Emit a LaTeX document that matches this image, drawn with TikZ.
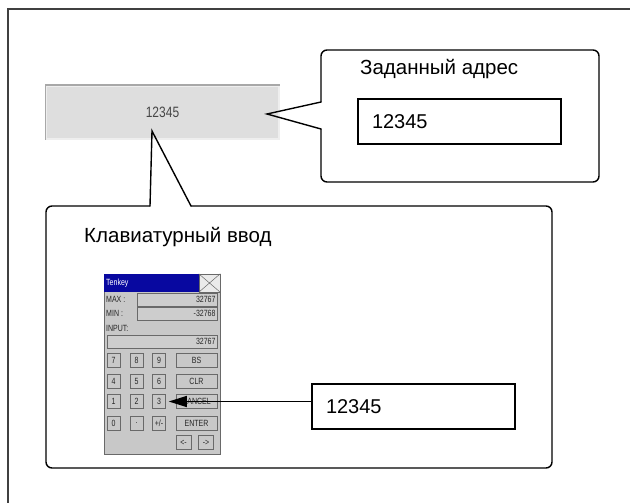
\documentclass[tikz,border=0pt]{standalone}
\usepackage{fontspec}
\setmainfont{Liberation Sans}
\newfontfamily\tkfont[FakeStretch=0.78]{Liberation Sans}
\newfontfamily\fieldfont[FakeStretch=0.8]{Liberation Sans}
\usetikzlibrary{arrows.meta}

\definecolor{framegray}{RGB}{64,64,64}
\definecolor{fieldface}{RGB}{222,222,222}
\definecolor{fieldedge}{RGB}{168,168,168}
\definecolor{fieldlight}{RGB}{238,238,238}
\definecolor{fieldtext}{RGB}{70,70,70}
\definecolor{tkface}{RGB}{200,200,200}
\definecolor{tkdark}{RGB}{105,105,105}
\definecolor{tkblue}{RGB}{8,8,160}

\tikzset{
  callout/.style={line width=1.4pt, line cap=round, rounded corners=6pt},
  pointer/.style={line width=1.4pt, line cap=round},
  calltext/.style={font=\fontsize{20.5}{24}\selectfont, inner sep=0pt},
  valbox/.style={draw, line width=1.4pt, minimum width=203pt, minimum height=45pt,
    text width=175pt, inner xsep=14pt, align=left, font=\fontsize{20}{24}\selectfont},
  field/.style={draw=fieldlight, line width=1.5pt, fill=fieldface, text=fieldtext,
    font=\fieldfont\fontsize{15}{17}\selectfont},
  tktext/.style={font=\tkfont\fontsize{9}{10}\selectfont, inner sep=0pt, text=black!85},
  tkfield/.style={draw=tkdark, line width=0.5pt, fill=tkface!90!white, minimum height=13pt, inner sep=0pt},
  tkbtn/.style={draw=tkdark, line width=0.5pt, fill=tkface, minimum width=13pt, minimum height=14pt,
    inner sep=0pt, font=\tkfont\fontsize{9}{10}\selectfont, text=black!85},
  keyarrow/.style={line width=1.2pt, -{Triangle[length=18pt,width=11pt]}},
}

\begin{document}
\begin{tikzpicture}[x=1pt,y=-1pt]
  \useasboundingbox (0,0) rectangle (630,503);
  % Rahmen
  \draw[framegray, line width=1.6pt] (8,503) -- (8,9) -- (630,9);

  % Eingabefeld
  \node[field, minimum width=233pt, minimum height=53pt] (field) at (162.5,112.5) {12345};
  \draw[fieldedge, line width=1.5pt] (field.south west) -- (field.north west) -- (field.north east);

  % Sprechblase oben
  \coordinate (tipA) at (267,114);
  \draw[callout] (321,129) -- (321,182) -- (599,182) -- (599,50) -- (321,50) -- (321,102);
  \draw[pointer] (321,102) -- (tipA) -- (321,129);
  \node[calltext, anchor=base west] (addrtitle) at (360,75) {Заданный адрес};
  \node[valbox] (addrbox) at (459.5,121.5) {12345};

  % Sprechblase unten
  \coordinate (tipB) at (152,131);
  \draw[callout] (191,206) -- (552,206) -- (552,468) -- (46,468) -- (46,206) -- (150,206);
  \draw[pointer] (150,206) -- (tipB) -- (191,206);
  \node[calltext, anchor=base west] (keytitle) at (84,242) {Клавиатурный ввод};
  \node[valbox] (keybox) at (413.5,406.5) {12345};

  % Tenkey-Fenster
  \node[draw=tkdark, line width=0.5pt, fill=tkface, minimum width=116pt, minimum height=180pt,
    inner sep=0pt] (tkwin) at (162,364) {};
  \node[fill=tkblue, minimum width=116pt, minimum height=18pt, inner sep=0pt] (tktitle) at (162,283) {};
  \node[tktext, text=white, anchor=west] (tkname) at (106,283) {Tenkey};
  \node[draw=tkdark, line width=0.5pt, fill=white!92!black, minimum width=21pt, minimum height=18pt,
    inner sep=0pt] (tkclose) at (209.5,283) {};
  \draw[tkdark, line width=0.5pt] (tkclose.north west) -- (tkclose.south east)
    (tkclose.north east) -- (tkclose.south west);

  \node[tktext, anchor=west] (tkmaxlbl) at (106,299.5) {MAX :};
  \node[tkfield, minimum width=80pt] (tkmax) at (177,299.5) {};
  \node[tktext, anchor=east] (tkmaxval) at ([xshift=-1.5pt]tkmax.east) {32767};
  \node[tktext, anchor=west] (tkminlbl) at (106,313.5) {MIN :};
  \node[tkfield, minimum width=80pt] (tkmin) at (177,313.5) {};
  \node[tktext, anchor=east] (tkminval) at ([xshift=-1.5pt]tkmin.east) {-32768};
  \node[tktext, anchor=west] (tkinlbl) at (106,328) {INPUT:};
  \node[tkfield, minimum width=110pt] (tkin) at (162,341.5) {};
  \node[tktext, anchor=east] (tkinval) at ([xshift=-1.5pt]tkin.east) {32767};

  % Tasten
  \node[tkbtn] (k7) at (113.5,360) {7};
  \node[tkbtn] (k8) at (136.5,360) {8};
  \node[tkbtn] (k9) at (159,360) {9};
  \node[tkbtn, minimum width=41pt] (kbs) at (196.5,360) {BS};
  \node[tkbtn] (k4) at (113.5,381) {4};
  \node[tkbtn] (k5) at (136.5,381) {5};
  \node[tkbtn] (k6) at (159,381) {6};
  \node[tkbtn, minimum width=41pt] (kclr) at (196.5,381) {CLR};
  \node[tkbtn] (k1) at (113.5,401.5) {1};
  \node[tkbtn] (k2) at (136.5,401.5) {2};
  \node[tkbtn] (k3) at (159,401.5) {3};
  \node[tkbtn, minimum width=41pt] (kcancel) at (196.5,401.5) {CANCEL};
  \node[tkbtn] (k0) at (113.5,423) {0};
  \node[tkbtn] (kdot) at (136.5,423) {.};
  \node[tkbtn] (kpm) at (159,423) {+/-};
  \node[tkbtn, minimum width=41pt] (kenter) at (196.5,423) {ENTER};
  \node[tkbtn, minimum width=15pt] (kleft) at (183.5,442.5) {<-};
  \node[tkbtn, minimum width=15pt] (kright) at (206,442.5) {->};

  % Pfeil
  \draw[keyarrow] (keybox.west |- k3.east) -- ([xshift=3pt]k3.east);
\end{tikzpicture}
\end{document}
